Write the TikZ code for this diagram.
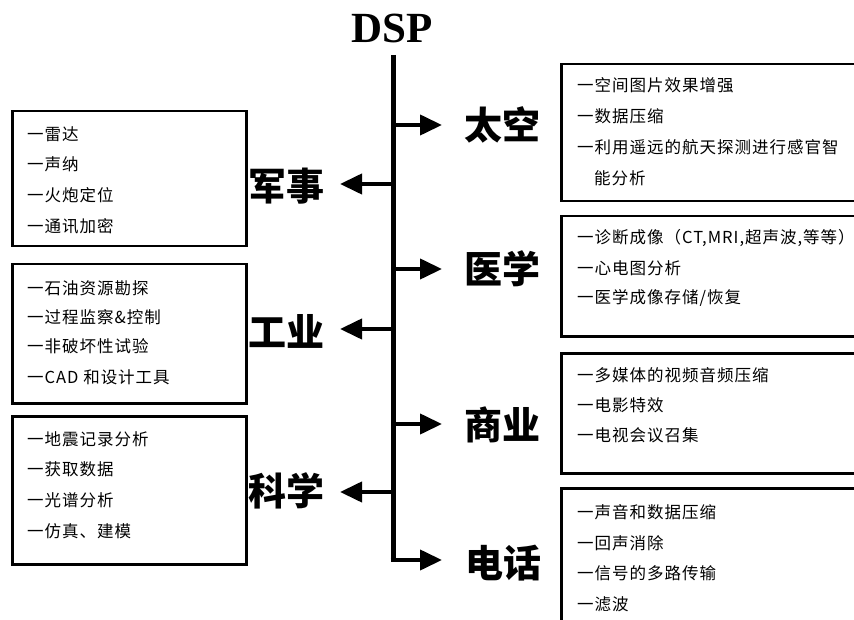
\documentclass[tikz,border=0pt]{standalone}
\usepackage{fontspec}
\usetikzlibrary{arrows.meta}
\setmainfont{Liberation Serif}
\newfontfamily\cjk{Noto Sans CJK SC}
\newfontfamily\cjkitem[LetterSpace=6]{Noto Sans CJK SC}
\tikzset{
  box/.style={draw, line width=2.5pt, inner sep=0pt, anchor=north west},
  item/.style={anchor=west, inner sep=0pt, font=\cjkitem\fontsize{16.5}{18}\selectfont},
  lab/.style={inner sep=0pt, font=\cjk\bfseries\fontsize{38}{40}\selectfont},
  trunk/.style={line width=5pt},
  arr/.style={line width=4pt, -{Triangle[length=22pt,width=20pt]}},
}
\begin{document}
\begin{tikzpicture}[x=1pt,y=-1pt]
\useasboundingbox (0,0) rectangle (854,620);
% title
\node[inner sep=0pt, font=\bfseries\fontsize{43}{45}\selectfont] (dsp) at (392,28) {DSP};
\coordinate (top) at (393,55);
% trunk coordinates
\coordinate (r1) at (393,125);
\coordinate (r2) at (393,269);
\coordinate (r3) at (393,424);
\coordinate (r4) at (393,560);
\coordinate (l1) at (393,184);
\coordinate (l2) at (393,329);
\coordinate (l3) at (393,492);
% labels
\node[lab] (space) at (502,125) {太空};
\node[lab] (med) at (502,269) {医学};
\node[lab] (com) at (502,425) {商业};
\node[lab] (tel) at (503,563) {电话};
\node[lab] (mil) at (286,186) {军事};
\node[lab] (ind) at (286,331) {工业};
\node[lab] (sci) at (286,491) {科学};
% trunk
\draw[trunk] (top) -- (r4);
\draw[arr] ([xshift=-2.5pt]r4) -- (442,560) coordinate (t4);
\draw[arr] (r1) -- (442,125) coordinate (t1);
\draw[arr] (r2) -- (442,269) coordinate (t2);
\draw[arr] (r3) -- (442,424) coordinate (t3);
\draw[arr] (l1) -- (340,184) coordinate (u1);
\draw[arr] (l2) -- (340,329) coordinate (u2);
\draw[arr] (l3) -- (340,492) coordinate (u3);
% left boxes
\node[box, minimum width=234pt, minimum height=135pt] (bmil) at (11,110) {};
\node[box, minimum width=234pt, minimum height=139pt] (bind) at (11,263) {};
\node[box, minimum width=234pt, minimum height=148pt] (bsci) at (11,415) {};
% right boxes
\node[box, minimum width=320pt, minimum height=137pt] (bspace) at (560,63) {};
\node[box, minimum width=320pt, minimum height=120pt] (bmed) at (560,215) {};
\node[box, minimum width=320pt, minimum height=120pt] (bcom) at (560,352) {};
\node[box, minimum width=320pt, minimum height=160pt] (btel) at (560,487) {};
% left texts
\node[item] (m1) at (27,134) {一雷达};
\node[item] (m2) at (27,164) {一声纳};
\node[item] (m3) at (27,195) {一火炮定位};
\node[item] (m4) at (27,226) {一通讯加密};
\node[item] (i1) at (27,288) {一石油资源勘探};
\node[item] (i2) at (27,317) {一过程监察\&控制};
\node[item] (i3) at (27,346) {一非破坏性试验};
\node[item] (i4) at (27,377) {一CAD 和设计工具};
\node[item] (s1) at (27,439) {一地震记录分析};
\node[item] (s2) at (27,469) {一获取数据};
\node[item] (s3) at (27,500) {一光谱分析};
\node[item] (s4) at (27,531) {一仿真、建模};
% right texts
\node[item] (a1) at (577,85) {一空间图片效果增强};
\node[item] (a2) at (577,116) {一数据压缩};
\node[item] (a3) at (577,147) {一利用遥远的航天探测进行感官智};
\node[item] (a4) at (594,178) {能分析};
\node[item] (b1) at (577,238) {一诊断成像（CT,MRI,超声波,等等）};
\node[item] (b2) at (577,268) {一心电图分析};
\node[item] (b3) at (577,298) {一医学成像存储/恢复};
\node[item] (c1) at (577,375) {一多媒体的视频音频压缩};
\node[item] (c2) at (577,405) {一电影特效};
\node[item] (c3) at (577,435) {一电视会议召集};
\node[item] (d1) at (577,512) {一声音和数据压缩};
\node[item] (d2) at (577,543) {一回声消除};
\node[item] (d3) at (577,573) {一信号的多路传输};
\node[item] (d4) at (577,604) {一滤波};
\end{tikzpicture}
\end{document}
